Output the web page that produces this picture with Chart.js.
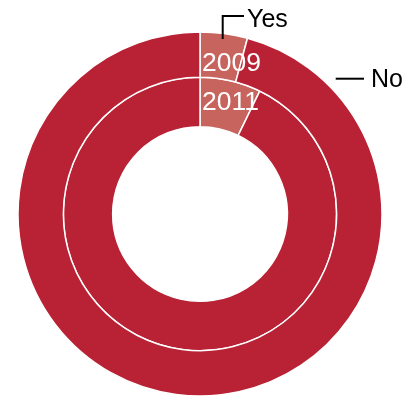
<!DOCTYPE html>
<html>
<head>
<meta charset="utf-8">
<script src="https://cdn.jsdelivr.net/npm/chart.js@4/dist/chart.umd.min.js"></script>
<style>
  html, body { margin: 0; padding: 0; background: #ffffff; }
  #wrap { width: 417px; height: 396px; }
</style>
</head>
<body>
<div id="wrap"><canvas id="c" width="417" height="396"></canvas></div>
<script>
// Survey answers, share of respondents (%), one ring per year
const years = ['2009', '2011'];
const answers = ['Yes', 'No'];
const yesShare = [4.2, 7.2];
const noShare = [95.8, 92.8];

const yesColor = '#c8645e';
const noColor = '#b82234';
const font = '"Liberation Sans", Arial, Helvetica, sans-serif';

// Year labels inside the rings, plus the Yes / No callouts
const ringLabels = {
  id: 'ringLabels',
  afterDatasetsDraw(chart) {
    const ctx = chart.ctx;
    ctx.save();
    ctx.fillStyle = '#ffffff';
    ctx.font = '26.5px ' + font;
    ctx.textAlign = 'left';
    ctx.textBaseline = 'middle';
    const labelRadius = [152, 112.5];
    chart.data.datasets.forEach((ds, i) => {
      const arc = chart.getDatasetMeta(i).data[0];
      ctx.fillText(years[i], arc.x + 2, arc.y - labelRadius[i] + 1.5);
    });

    const outer = chart.getDatasetMeta(0).data[0];
    const cx = outer.x, cy = outer.y, r = outer.outerRadius;
    ctx.strokeStyle = '#000000';
    ctx.lineWidth = 2;
    ctx.beginPath();
    ctx.moveTo(cx + 22.7, cy - r + 7);
    ctx.lineTo(cx + 22.7, cy - r - 16);
    ctx.lineTo(cx + 44, cy - r - 16);
    ctx.stroke();
    ctx.beginPath();
    ctx.moveTo(cx + 135.7, cy - 135.3);
    ctx.lineTo(cx + 164, cy - 135.3);
    ctx.stroke();

    ctx.fillStyle = '#000000';
    ctx.font = '25px ' + font;
    ctx.textBaseline = 'alphabetic';
    ctx.fillText(answers[0], cx + 47, cy - r - 5);
    ctx.fillText(answers[1], cx + 171, cy - 127);
    ctx.restore();
  }
};

new Chart(document.getElementById('c'), {
  type: 'doughnut',
  data: {
    labels: answers,
    datasets: years.map((y, i) => ({
      label: y,
      data: [yesShare[i], noShare[i]],
      backgroundColor: [yesColor, noColor],
      borderColor: '#ffffff',
      borderWidth: 1.5,
      weight: i === 0 ? 0.92 : 1
    }))
  },
  options: {
    responsive: false,
    animation: false,
    radius: 182,
    cutout: '48%',
    layout: { padding: { left: 0, right: 17, top: 32, bottom: 0 } },
    plugins: {
      legend: { display: false },
      tooltip: { enabled: false }
    },
    events: []
  },
  plugins: [ringLabels]
});
</script>
</body>
</html>
